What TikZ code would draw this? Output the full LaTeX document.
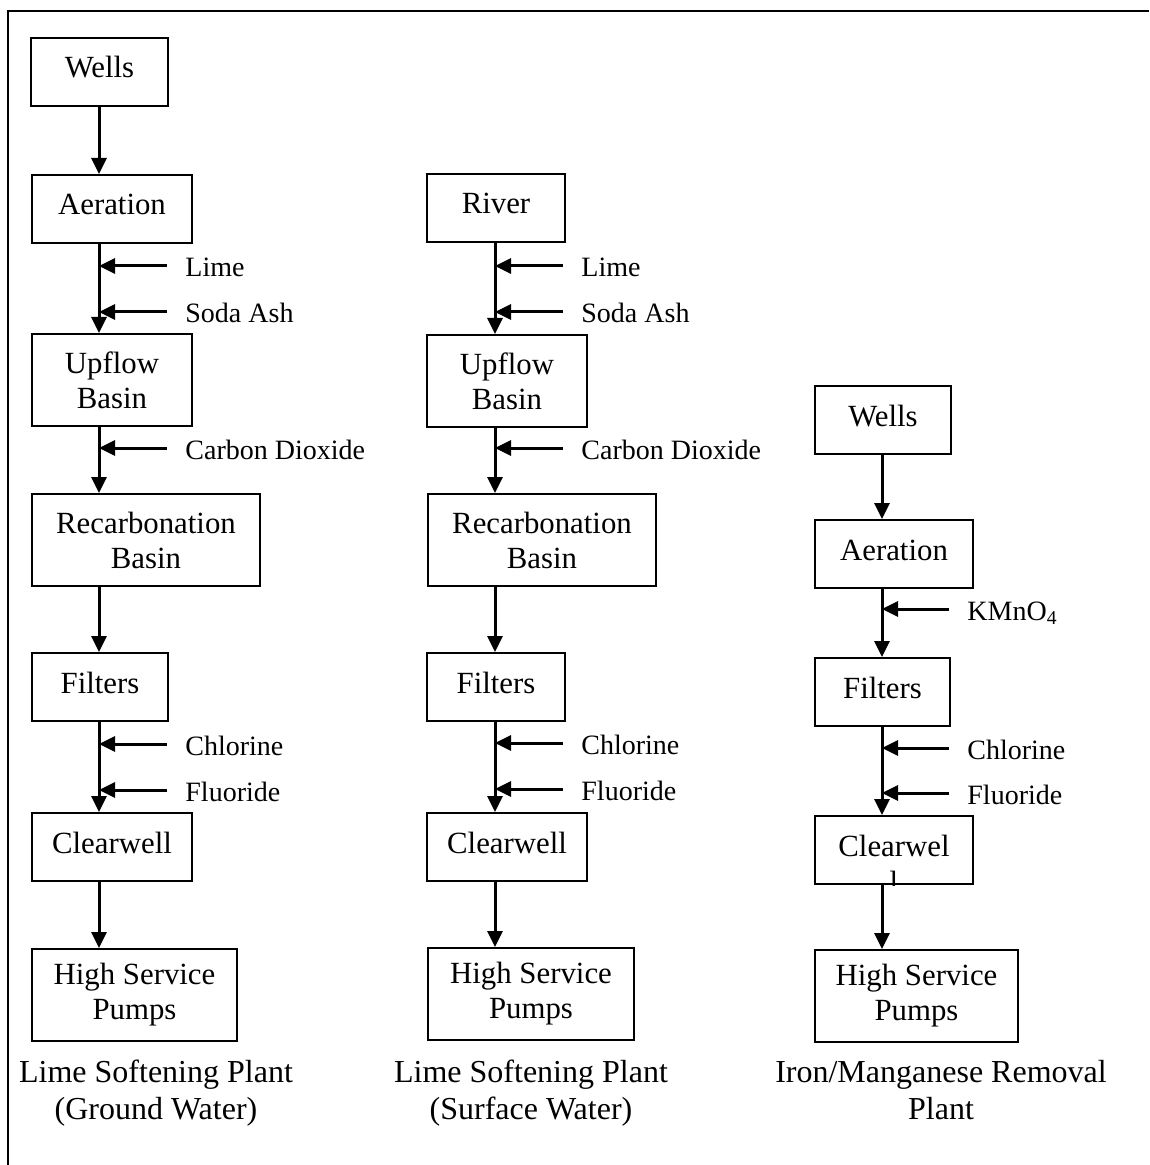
\documentclass[tikz,border=0pt]{standalone}
\usepackage{fontspec}
\setmainfont{Liberation Serif}
\usetikzlibrary{arrows.meta}

\tikzset{
	box/.style={draw, line width=1pt, minimum height=34pt, inner sep=0pt, anchor=north west, text height=11pt, text depth=5pt, font=\fontsize{15.4}{17.5}\selectfont},
	tallbox/.style={draw, line width=1pt, minimum height=46pt, inner sep=0pt, anchor=north west, align=center, font=\fontsize{15.4}{17.5}\selectfont},
	feed/.style={anchor=west, inner xsep=9pt, inner ysep=0pt, text height=11pt, text depth=0pt, font=\fontsize{14}{16}\selectfont},
	flow/.style={line width=1.5pt, -{Triangle[length=8pt,width=7.5pt]}},
	plantname/.style={align=center, font=\fontsize{16}{18.5}\selectfont}
}

\begin{document}
\begin{tikzpicture}[x=0.5pt, y=-0.5pt]
	\useasboundingbox (0,0) rectangle (1149,1165);
	\draw[line width=1.3pt] (8,1165) -- (8,11) -- (1149,11);

	% ground water
	\node[box, minimum width=68.5pt] (wellsA) at (30,37) {Wells};
	\node[box, minimum width=80pt] (aerA) at (31,174) {Aeration};
	\node[tallbox, minimum width=80pt] (upA) at (31,333) {Upflow\\Basin};
	\node[tallbox, minimum width=114pt] (recA) at (31,493) {Recarbonation\\Basin};
	\node[box, minimum width=68pt] (filA) at (31,652) {Filters};
	\node[box, minimum width=80pt] (clrA) at (31,812) {Clearwell};
	\node[tallbox, minimum width=102.5pt] (hspA) at (31,948) {High Service\\Pumps};
	\coordinate (axA) at (99,0);
	\node[feed] (limeA) at (167,266) {Lime};
	\node[feed] (sodaA) at (167,312) {Soda Ash};
	\node[feed] (coA) at (167,448) {Carbon Dioxide};
	\node[feed] (chlA) at (167,744) {Chlorine};
	\node[feed] (fluA) at (167,790) {Fluoride};
	\node[plantname] (nameA) at (156,1093) {Lime Softening Plant\\(Ground Water)};

	% surface water
	\node[box, minimum width=69pt] (riverB) at (426,173) {River};
	\node[tallbox, minimum width=80pt] (upB) at (426,334) {Upflow\\Basin};
	\node[tallbox, minimum width=114pt] (recB) at (427,493) {Recarbonation\\Basin};
	\node[box, minimum width=69pt] (filB) at (426,652) {Filters};
	\node[box, minimum width=80pt] (clrB) at (426,812) {Clearwell};
	\node[tallbox, minimum width=103pt] (hspB) at (427,947) {High Service\\Pumps};
	\coordinate (axB) at (495,0);
	\node[feed] (limeB) at (563,266) {Lime};
	\node[feed] (sodaB) at (563,312) {Soda Ash};
	\node[feed] (coB) at (563,448) {Carbon Dioxide};
	\node[feed] (chlB) at (563,743) {Chlorine};
	\node[feed] (fluB) at (563,789) {Fluoride};
	\node[plantname] (nameB) at (531,1093) {Lime Softening Plant\\(Surface Water)};

	% iron / manganese
	\node[box, minimum width=68pt] (wellsC) at (814,385) {Wells};
	\node[box, minimum width=79pt] (aerC) at (814,519) {Aeration};
	\node[box, minimum width=67.5pt] (filC) at (814,657) {Filters};
	\node[box, minimum width=79pt] (clrC) at (814,815) {Clearwel};
	\begin{scope}
		\clip (clrC.south west) rectangle (clrC.north east);
		\node[anchor=base, font=\fontsize{15.4}{17.5}\selectfont] (clrCtail) at ([yshift=-18pt]clrC.base) {l};
	\end{scope}
	\node[tallbox, minimum width=101.5pt] (hspC) at (814,949) {High Service\\Pumps};
	\coordinate (axC) at (882,0);
	\node[feed] (kmnC) at (949,609) {KMnO\textsubscript{4}};
	\node[feed] (chlC) at (949,748) {Chlorine};
	\node[feed] (fluC) at (949,793) {Fluoride};
	\node[plantname] (nameC) at (941,1090) {Iron/Manganese Removal\\Plant};

	\path[flow]
	(wellsA.south -| axA) edge (aerA.north -| axA)
	(aerA.south -| axA) edge (upA.north -| axA)
	(upA.south -| axA) edge (recA.north -| axA)
	(recA.south -| axA) edge (filA.north -| axA)
	(filA.south -| axA) edge (clrA.north -| axA)
	(clrA.south -| axA) edge (hspA.north -| axA)
	(limeA.west) edge (limeA.west -| axA)
	(sodaA.west) edge (sodaA.west -| axA)
	(coA.west) edge (coA.west -| axA)
	(chlA.west) edge (chlA.west -| axA)
	(fluA.west) edge (fluA.west -| axA)
	;
	\path[flow]
	(riverB.south -| axB) edge (upB.north -| axB)
	(upB.south -| axB) edge (recB.north -| axB)
	(recB.south -| axB) edge (filB.north -| axB)
	(filB.south -| axB) edge (clrB.north -| axB)
	(clrB.south -| axB) edge (hspB.north -| axB)
	(limeB.west) edge (limeB.west -| axB)
	(sodaB.west) edge (sodaB.west -| axB)
	(coB.west) edge (coB.west -| axB)
	(chlB.west) edge (chlB.west -| axB)
	(fluB.west) edge (fluB.west -| axB)
	;
	\path[flow]
	(wellsC.south -| axC) edge (aerC.north -| axC)
	(aerC.south -| axC) edge (filC.north -| axC)
	(filC.south -| axC) edge (clrC.north -| axC)
	(clrC.south -| axC) edge (hspC.north -| axC)
	(kmnC.west) edge (kmnC.west -| axC)
	(chlC.west) edge (chlC.west -| axC)
	(fluC.west) edge (fluC.west -| axC)
	;
\end{tikzpicture}
\end{document}
